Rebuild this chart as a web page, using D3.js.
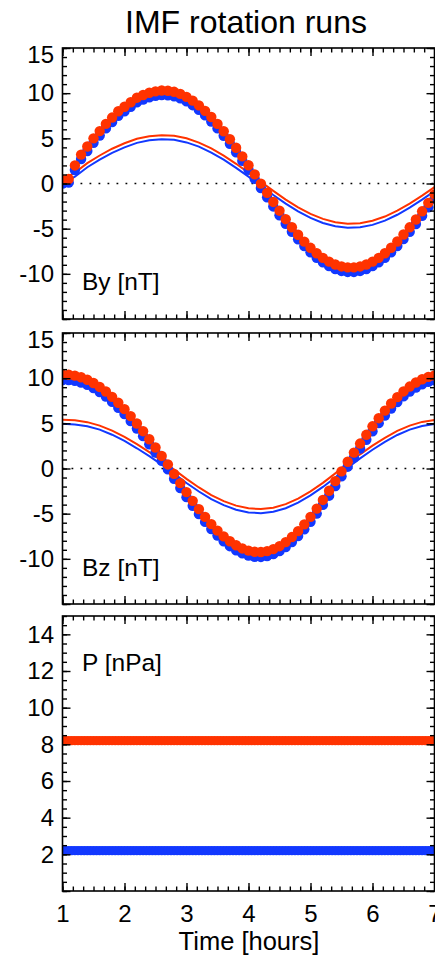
<!DOCTYPE html>
<html>
<head>
<meta charset="utf-8">
<script src="https://cdn.jsdelivr.net/npm/d3@7"></script>
<style>
body { margin: 0; background: #fff; }
text { font-family: "Liberation Sans", Helvetica, Arial, sans-serif; fill: #000; }
</style>
</head>
<body>
<svg id="chart" width="435" height="957"></svg>
<script>
// sample times [hours]
var timeFine = [1.0,1.1,1.2,1.3,1.4,1.5,1.6,1.7,1.8,1.9,
	2.0,2.1,2.2,2.3,2.4,2.5,2.6,2.7,2.8,2.9,
	3.0,3.1,3.2,3.3,3.4,3.5,3.6,3.7,3.8,3.9,
	4.0,4.1,4.2,4.3,4.4,4.5,4.6,4.7,4.8,4.9,
	5.0,5.1,5.2,5.3,5.4,5.5,5.6,5.7,5.8,5.9,
	6.0,6.1,6.2,6.3,6.4,6.5,6.6,6.7,6.8,6.9,7.0];
var timeCoarse = [1.0,1.2,1.4,1.6,1.8,2.0,2.2,2.4,2.6,2.8,
	3.0,3.2,3.4,3.6,3.8,4.0,4.2,4.4,4.6,4.8,
	5.0,5.2,5.4,5.6,5.8,6.0,6.2,6.4,6.6,6.8,7.0];
// pressure is sampled more often
var timeP = [1.0,1.05,1.1,1.15,1.2,1.25,1.3,1.35,1.4,1.45,1.5,1.55,1.6,1.65,1.7,1.75,1.8,1.85,1.9,1.95,
	2.0,2.05,2.1,2.15,2.2,2.25,2.3,2.35,2.4,2.45,2.5,2.55,2.6,2.65,2.7,2.75,2.8,2.85,2.9,2.95,
	3.0,3.05,3.1,3.15,3.2,3.25,3.3,3.35,3.4,3.45,3.5,3.55,3.6,3.65,3.7,3.75,3.8,3.85,3.9,3.95,
	4.0,4.05,4.1,4.15,4.2,4.25,4.3,4.35,4.4,4.45,4.5,4.55,4.6,4.65,4.7,4.75,4.8,4.85,4.9,4.95,
	5.0,5.05,5.1,5.15,5.2,5.25,5.3,5.35,5.4,5.45,5.5,5.55,5.6,5.65,5.7,5.75,5.8,5.85,5.9,5.95,
	6.0,6.05,6.1,6.15,6.2,6.25,6.3,6.35,6.4,6.45,6.5,6.55,6.6,6.65,6.7,6.75,6.8,6.85,6.9,6.95,7.0];

// By [nT], markers
var byBlue = [0.0,0.1,1.5,2.7,3.6,4.5,5.3,6.1,6.8,7.5,
	8.0,8.5,9.0,9.3,9.55,9.7,9.8,9.77,9.65,9.42,
	9.09,8.67,8.15,7.54,6.86,6.10,5.28,4.40,3.46,2.50,
	1.52,0.51,-0.51,-1.53,-2.54,-3.51,-4.45,-5.34,-6.17,-6.93,
	-7.62,-8.22,-8.73,-9.15,-9.47,-9.68,-9.79,-9.79,-9.68,-9.47,
	-9.15,-8.73,-8.22,-7.61,-6.92,-6.15,-5.35,-4.48,-3.58,-2.64,-1.70];
var byRed = [0.4,0.5,2.0,3.2,4.1,5.0,5.8,6.6,7.3,8.0,
	8.5,9.0,9.5,9.8,10.05,10.2,10.3,10.27,10.15,9.92,
	9.59,9.17,8.65,8.04,7.36,6.6,5.78,4.9,3.96,3.0,
	2.02,1.01,-0.01,-1.03,-2.04,-3.01,-3.95,-4.84,-5.67,-6.43,
	-7.12,-7.72,-8.23,-8.65,-8.97,-9.18,-9.29,-9.29,-9.18,-8.97,
	-8.65,-8.23,-7.72,-7.11,-6.42,-5.65,-4.85,-3.98,-3.08,-2.14,-1.2];
// By [nT], thin lines
var byThinBlue = [0.0,0.75,1.8,2.65,3.4,4.0,4.5,4.78,4.9,4.83,
	4.55,4.08,3.43,2.64,1.73,0.76,-0.26,-1.27,-2.23,-3.09,
	-3.81,-4.37,-4.74,-4.9,-4.84,-4.58,-4.11,-3.46,-2.68,-1.79,-0.85];
var byThinRed = [0.45,1.2,2.25,3.1,3.85,4.45,4.95,5.23,5.35,5.28,
	5.0,4.53,3.88,3.09,2.18,1.21,0.19,-0.82,-1.78,-2.64,
	-3.36,-3.92,-4.29,-4.45,-4.39,-4.13,-3.66,-3.01,-2.23,-1.34,-0.4];

// Bz [nT], markers
var bzBlue = [9.8,9.79,9.7,9.52,9.26,8.9,8.47,7.96,7.37,6.73,
	6.02,5.25,4.43,3.58,2.69,1.77,0.84,-0.1,-1.14,-2.17,
	-3.17,-4.13,-5.05,-5.91,-6.71,-7.43,-8.06,-8.6,-9.05,-9.4,
	-9.64,-9.77,-9.79,-9.7,-9.48,-9.15,-8.7,-8.14,-7.48,-6.73,
	-5.9,-4.99,-4.03,-3.01,-1.95,-0.87,0.2,1.21,2.21,3.18,
	4.12,5.02,5.86,6.64,7.35,7.98,8.52,8.97,9.33,9.59,9.75];
var bzRed = [10.4,10.38,10.28,10.1,9.83,9.47,9.03,8.52,7.93,7.28,
	6.57,5.8,4.98,4.13,3.24,2.32,1.39,0.45,-0.59,-1.62,
	-2.62,-3.58,-4.5,-5.36,-6.16,-6.88,-7.51,-8.05,-8.5,-8.85,
	-9.09,-9.22,-9.24,-9.15,-8.93,-8.6,-8.15,-7.59,-6.93,-6.18,
	-5.35,-4.44,-3.48,-2.46,-1.4,-0.32,0.75,1.76,2.76,3.73,
	4.67,5.57,6.41,7.19,7.9,8.53,9.07,9.52,9.88,10.14,10.3];
// Bz [nT], thin lines
var bzThinBlue = [4.95,4.88,4.68,4.3,3.74,3.05,2.24,1.37,0.43,-0.57,
	-1.6,-2.55,-3.39,-4.06,-4.56,-4.86,-4.94,-4.79,-4.4,-3.78,
	-2.98,-2.04,-0.99,0.1,1.12,2.08,2.95,3.71,4.3,4.71,4.92];
var bzThinRed = [5.4,5.33,5.13,4.75,4.19,3.5,2.69,1.82,0.88,-0.12,
	-1.15,-2.1,-2.94,-3.61,-4.11,-4.41,-4.49,-4.34,-3.95,-3.33,
	-2.53,-1.59,-0.54,0.55,1.57,2.53,3.4,4.16,4.75,5.16,5.37];

// P [nPa], markers (on timeP)
var pBlue = [2.2,2.2,2.2,2.2,2.2,2.2,2.2,2.2,2.2,2.2,2.2,2.2,2.2,2.2,2.2,2.2,2.2,2.2,2.2,2.2,
	2.2,2.2,2.2,2.2,2.2,2.2,2.2,2.2,2.2,2.2,2.2,2.2,2.2,2.2,2.2,2.2,2.2,2.2,2.2,2.2,
	2.2,2.2,2.2,2.2,2.2,2.2,2.2,2.2,2.2,2.2,2.2,2.2,2.2,2.2,2.2,2.2,2.2,2.2,2.2,2.2,
	2.2,2.2,2.2,2.2,2.2,2.2,2.2,2.2,2.2,2.2,2.2,2.2,2.2,2.2,2.2,2.2,2.2,2.2,2.2,2.2,
	2.2,2.2,2.2,2.2,2.2,2.2,2.2,2.2,2.2,2.2,2.2,2.2,2.2,2.2,2.2,2.2,2.2,2.2,2.2,2.2,
	2.2,2.2,2.2,2.2,2.2,2.2,2.2,2.2,2.2,2.2,2.2,2.2,2.2,2.2,2.2,2.2,2.2,2.2,2.2,2.2,2.2];
var pRed = [8.2,8.2,8.2,8.2,8.2,8.2,8.2,8.2,8.2,8.2,8.2,8.2,8.2,8.2,8.2,8.2,8.2,8.2,8.2,8.2,
	8.2,8.2,8.2,8.2,8.2,8.2,8.2,8.2,8.2,8.2,8.2,8.2,8.2,8.2,8.2,8.2,8.2,8.2,8.2,8.2,
	8.2,8.2,8.2,8.2,8.2,8.2,8.2,8.2,8.2,8.2,8.2,8.2,8.2,8.2,8.2,8.2,8.2,8.2,8.2,8.2,
	8.2,8.2,8.2,8.2,8.2,8.2,8.2,8.2,8.2,8.2,8.2,8.2,8.2,8.2,8.2,8.2,8.2,8.2,8.2,8.2,
	8.2,8.2,8.2,8.2,8.2,8.2,8.2,8.2,8.2,8.2,8.2,8.2,8.2,8.2,8.2,8.2,8.2,8.2,8.2,8.2,
	8.2,8.2,8.2,8.2,8.2,8.2,8.2,8.2,8.2,8.2,8.2,8.2,8.2,8.2,8.2,8.2,8.2,8.2,8.2,8.2,8.2];

var xTicks = [1,2,3,4,5,6,7];
var byTicks = [-15,-10,-5,0,5,10,15];
var pTicks = [0,2,4,6,8,10,12,14];

var colRed = "#ff3300";
var colBlue = "#1238ff";

var svg = d3.select("#chart");
var left = 62.5, right = 434.5;
var x = d3.scaleLinear().domain([1, 7]).range([left, right]);

var panels = [
	{id: "by", top: 48, bottom: 319, domain: [-15, 15], ticks: byTicks, minor: 1,
		label: "By [nT]", labelY: 290, zero: true, time: timeFine,
		thick: [byBlue, byRed], thin: [byThinBlue, byThinRed]},
	{id: "bz", top: 333, bottom: 604, domain: [-15, 15], ticks: byTicks, minor: 1,
		label: "Bz [nT]", labelY: 576, zero: true, time: timeFine,
		thick: [bzBlue, bzRed], thin: [bzThinBlue, bzThinRed]},
	{id: "p", top: 616, bottom: 891, domain: [0, 15], ticks: pTicks, minor: 0.5,
		label: "P [nPa]", labelY: 671, zero: false, time: timeP,
		thick: [pBlue, pRed], thin: null, xLabels: true}
];

var xMinor = d3.range(0, 37).map(function(i) { return 1 + i / 6; });

// title
svg.append("text")
	.attr("x", 246)
	.attr("y", 33)
	.attr("text-anchor", "middle")
	.attr("font-size", 32)
	.text("IMF rotation runs");

panels.forEach(function(p) {
	var y = d3.scaleLinear().domain(p.domain).range([p.bottom, p.top]);
	var g = svg.append("g").attr("class", "panel-" + p.id);
	var yMinor = d3.range(p.domain[0], p.domain[1] + 0.001, p.minor);

	svg.append("clipPath").attr("id", "clip-" + p.id)
		.append("rect")
			.attr("x", left).attr("y", p.top)
			.attr("width", right - left).attr("height", p.bottom - p.top);

	var plot = g.append("g").attr("clip-path", "url(#clip-" + p.id + ")");

	if (p.zero) {
		plot.append("line")
			.attr("x1", left).attr("x2", right)
			.attr("y1", y(0)).attr("y2", y(0))
			.attr("stroke", "#000")
			.attr("stroke-width", 1.6)
			.attr("stroke-dasharray", "1.8,7.2");
	}

	var line = d3.line()
		.x(function(d, i) { return x(timeCoarse[i]); })
		.y(function(d) { return y(d); });

	if (p.thin) {
		[colBlue, colRed].forEach(function(c, k) {
			plot.append("path")
				.datum(p.thin[k])
				.attr("fill", "none")
				.attr("stroke", c)
				.attr("stroke-width", 2)
				.attr("d", line);
		});
	}

	// blue first, red over it
	[colBlue, colRed].forEach(function(c, k) {
		plot.append("g").selectAll("circle")
			.data(p.thick[k])
			.join("circle")
				.attr("cx", function(d, i) { return x(p.time[i]); })
				.attr("cy", function(d) { return y(d); })
				.attr("r", p.thin ? 5.2 : 4.7)
				.attr("fill", c);
	});

	// ticks on all four sides, pointing in
	var fmt = function(d) { return d === p.domain[0] ? "" : String(d); };
	var noLab = function() { return ""; };

	var yl = g.append("g").attr("transform", "translate(" + left + ",0)")
		.call(d3.axisLeft(y).tickValues(p.ticks).tickSize(-8).tickPadding(8.5).tickFormat(fmt));
	g.append("g").attr("transform", "translate(" + left + ",0)")
		.call(d3.axisLeft(y).tickValues(yMinor).tickSize(-4.5).tickFormat(noLab));
	g.append("g").attr("transform", "translate(" + right + ",0)")
		.call(d3.axisRight(y).tickValues(p.ticks).tickSize(-8).tickFormat(noLab));
	g.append("g").attr("transform", "translate(" + right + ",0)")
		.call(d3.axisRight(y).tickValues(yMinor).tickSize(-4.5).tickFormat(noLab));

	var xl = g.append("g").attr("transform", "translate(0," + p.bottom + ")")
		.call(d3.axisBottom(x).tickValues(xTicks).tickSize(-8).tickPadding(14)
			.tickFormat(p.xLabels ? function(d) { return String(d); } : noLab));
	g.append("g").attr("transform", "translate(0," + p.bottom + ")")
		.call(d3.axisBottom(x).tickValues(xMinor).tickSize(-4.5).tickFormat(noLab));
	g.append("g").attr("transform", "translate(0," + p.top + ")")
		.call(d3.axisTop(x).tickValues(xTicks).tickSize(-8).tickFormat(noLab));
	g.append("g").attr("transform", "translate(0," + p.top + ")")
		.call(d3.axisTop(x).tickValues(xMinor).tickSize(-4.5).tickFormat(noLab));

	g.selectAll(".domain").remove();
	g.selectAll(".tick line").attr("stroke", "#000").attr("stroke-width", 1.4);
	g.selectAll(".tick text")
		.attr("font-family", "'Liberation Sans', Helvetica, Arial, sans-serif")
		.attr("font-size", 24)
		.attr("fill", "#000");
	// top label sits a bit lower than its tick
	yl.selectAll(".tick text")
		.attr("dy", function(d) { return d === p.domain[1] ? "0.62em" : "0.32em"; });
	xl.selectAll(".tick text").attr("dy", "0.71em");

	g.append("rect")
		.attr("x", left).attr("y", p.top)
		.attr("width", right - left).attr("height", p.bottom - p.top)
		.attr("fill", "none")
		.attr("stroke", "#000")
		.attr("stroke-width", 1.6);

	g.append("text")
		.attr("x", 82)
		.attr("y", p.labelY)
		.attr("font-size", 24.5)
		.text(p.label);
});

svg.append("text")
	.attr("x", 249)
	.attr("y", 950)
	.attr("text-anchor", "middle")
	.attr("font-size", 25.5)
	.text("Time [hours]");
</script>
</body>
</html>
